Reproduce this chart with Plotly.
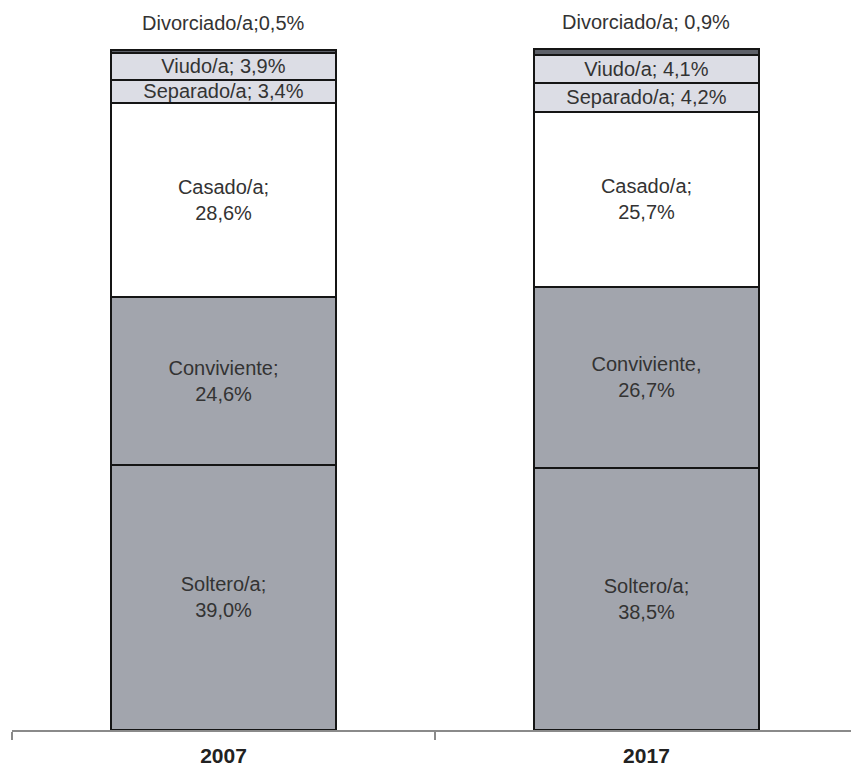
import plotly.graph_objects as go

years = ["2007", "2017"]
categories = ["Soltero/a", "Conviviente", "Casado/a", "Separado/a", "Viudo/a", "Divorciado/a"]
values = {
    "Soltero/a": [39.0, 38.5],
    "Conviviente": [24.6, 26.7],
    "Casado/a": [28.6, 25.7],
    "Separado/a": [3.4, 4.2],
    "Viudo/a": [3.9, 4.1],
    "Divorciado/a": [0.5, 0.9],
}
# label separators as printed in the source
label_text = {
    "Soltero/a": ["Soltero/a;<br>39,0%", "Soltero/a;<br>38,5%"],
    "Conviviente": ["Conviviente;<br>24,6%", "Conviviente,<br>26,7%"],
    "Casado/a": ["Casado/a;<br>28,6%", "Casado/a;<br>25,7%"],
    "Separado/a": ["Separado/a; 3,4%", "Separado/a; 4,2%"],
    "Viudo/a": ["Viudo/a; 3,9%", "Viudo/a; 4,1%"],
    "Divorciado/a": ["Divorciado/a;0,5%", "Divorciado/a; 0,9%"],
}
colors = {
    "Soltero/a": "#a2a5ad",
    "Conviviente": "#a2a5ad",
    "Casado/a": "#ffffff",
    "Separado/a": "#dcdde5",
    "Viudo/a": "#dcdde5",
    "Divorciado/a": "#5d6068",
}

FONT = "Liberation Sans, Arial, sans-serif"
fig = go.Figure()
for c in categories:
    inside = c != "Divorciado/a"
    fig.add_trace(go.Bar(
        x=years, y=values[c], name=c,
        marker=dict(color=colors[c], line=dict(color="#151515", width=2)),
        text=label_text[c] if inside else None,
        texttemplate="%{text}" if inside else None,
        textposition="inside" if inside else "none",
        insidetextanchor="middle",
        constraintext="none",
        textfont=dict(family=FONT, size=20, color="#333333"),
        width=0.53,
        hoverinfo="skip",
    ))

totals = [sum(values[c][i] for c in categories) for i in range(len(years))]
for i, y in enumerate(years):
    fig.add_annotation(
        x=i, y=totals[i], yref="y", xref="x",
        text=label_text["Divorciado/a"][i], showarrow=False,
        yanchor="bottom", yshift=14,
        font=dict(family=FONT, size=20, color="#333333"),
    )

fig.update_layout(
    barmode="stack",
    width=851, height=768,
    margin=dict(l=0, r=0, t=43, b=38),
    paper_bgcolor="white", plot_bgcolor="white",
    showlegend=False,
    xaxis=dict(
        type="category", domain=[12 / 851, 1], range=[-0.5, 1.4835],
        showline=True, linecolor="#8a8a8a", linewidth=2,
        ticks="outside", tickson="boundaries", ticklen=8, tickcolor="#8a8a8a", tickwidth=2,
        tickfont=dict(family=FONT, size=21, color="#222222", weight="bold"),
        ticklabelstandoff=6,
        showgrid=False, zeroline=False,
    ),
    yaxis=dict(range=[0, 101], visible=False, showgrid=False, zeroline=False),
)

fig.write_html("out.html")
